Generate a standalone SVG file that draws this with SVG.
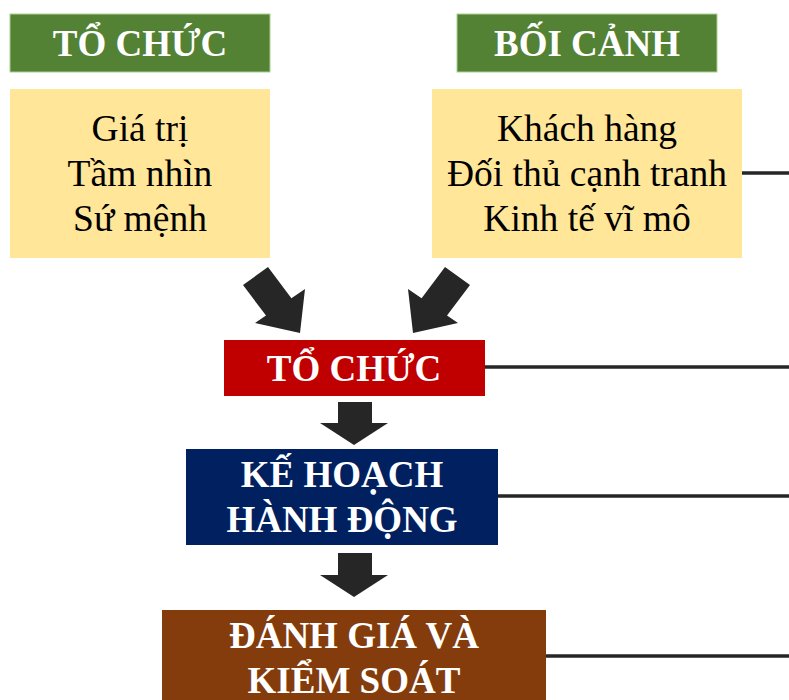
<svg xmlns="http://www.w3.org/2000/svg" width="789" height="700" viewBox="0 0 789 700">
<style>
.hd{font-family:"Liberation Serif","Times New Roman",serif;font-weight:bold;font-size:37px;fill:#fff;text-anchor:middle}
.bd{font-family:"Liberation Serif","Times New Roman",serif;font-size:37.5px;fill:#000;text-anchor:middle}
.conn{stroke:#262626;stroke-width:3.5;fill:none}
.arr{fill:#262626}
</style>
<rect width="789" height="700" fill="#fff"/>
<g id="hdr-org">
<rect x="10" y="14" width="260" height="58" fill="#548235" stroke="#A9D18E" stroke-width="1"/>
<text class="hd" x="140" y="56">TỔ CHỨC</text>
</g>
<g id="hdr-ctx">
<rect x="457" y="14" width="260" height="58" fill="#548235" stroke="#A9D18E" stroke-width="1"/>
<text class="hd" x="587" y="56">BỐI CẢNH</text>
</g>
<g id="org-items">
<rect x="10" y="89" width="260" height="169" fill="#FFE699"/>
<text class="bd" x="140" y="141">Giá trị</text>
<text class="bd" x="140" y="186">Tầm nhìn</text>
<text class="bd" x="140" y="231">Sứ mệnh</text>
</g>
<g id="ctx-items">
<rect x="432" y="89" width="310" height="169" fill="#FFE699"/>
<text class="bd" x="587" y="141">Khách hàng</text>
<text class="bd" x="587" y="186">Đối thủ cạnh tranh</text>
<text class="bd" x="587" y="231">Kinh tế vĩ mô</text>
</g>
<g id="org">
<rect x="224" y="340" width="261" height="56" fill="#C00000"/>
<text class="hd" x="354" y="381">TỔ CHỨC</text>
</g>
<g id="plan">
<rect x="186" y="449" width="312" height="96" fill="#002060"/>
<text class="hd" x="342" y="487">KẾ HOẠCH</text>
<text class="hd" x="342" y="532">HÀNH ĐỘNG</text>
</g>
<g id="eval">
<rect x="162" y="610" width="384" height="95" fill="#843C0C"/>
<text class="hd" x="354" y="648">ĐÁNH GIÁ VÀ</text>
<text class="hd" x="354" y="693">KIỂM SOÁT</text>
</g>
<g id="connectors">
<polygon class="arr" points="243,285 266,315.6 255,323 300,333 305,289 291.4,298.2 268,267"/>
<polygon class="arr" points="470,285 447,315.6 458,323 413,333 408,289 421.6,298.2 445,267"/>
<polygon class="arr" points="338,402 372,402 372,423 388,423 354,445 320,423 338,423"/>
<polygon class="arr" points="338,553 372,553 372,575 388,575 354,597 320,575 338,575"/>
<line class="conn" x1="742" y1="173" x2="789" y2="173"/>
<line class="conn" x1="485" y1="367" x2="789" y2="367"/>
<line class="conn" x1="498" y1="496" x2="789" y2="496"/>
<line class="conn" x1="546" y1="656" x2="789" y2="656"/>
</g>
</svg>
